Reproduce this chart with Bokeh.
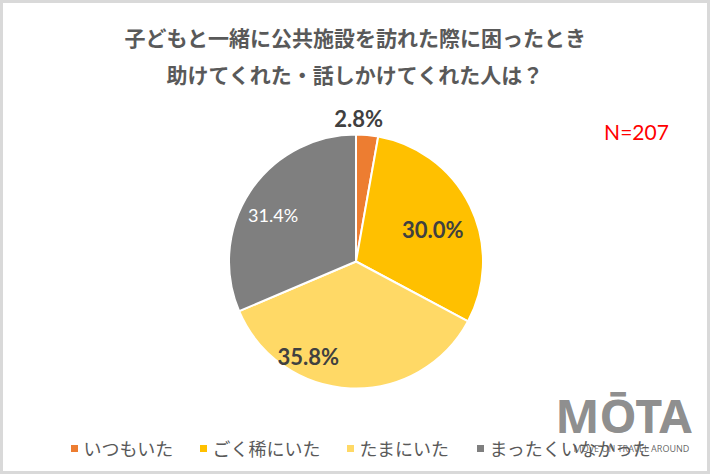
import math
from bokeh.plotting import figure
from bokeh.models import Range1d, ColumnDataSource
from bokeh.core.properties import value
from bokeh.embed import file_html
from bokeh.resources import INLINE

# ---- data ----
title_lines = ["子どもと一緒に公共施設を訪れた際に困ったとき", "助けてくれた・話しかけてくれた人は？"]
categories = ["いつもいた", "ごく稀にいた", "たまにいた", "まったくいなかった"]
percents = [2.8, 30.0, 35.8, 31.4]
label_texts = ["2.8%", "30.0%", "35.8%", "31.4%"]
n_text = "N=207"

# ---- style / layout ----
colors = ["#ED7D31", "#FFC000", "#FFD966", "#7F7F7F"]
label_colors = ["#404040", "#404040", "#404040", "#FFFFFF"]
label_weights = ["bold", "bold", "bold", "normal"]
label_sizes = ["22px", "22px", "22px", "18px"]
label_rfac = [1.125, 0.655, 0.835, 0.75]
label_dang = [4.0, -3.3, -24.3, 4.0]
legend_x = [74, 203, 350, 480]

W, H = 710, 474
H_IMG = 474

def Y(y):  # convert top-down pixel to data y
    return H_IMG - y

p = figure(width=W, height=H, output_backend="svg", toolbar_location=None,
           x_range=Range1d(0, W), y_range=Range1d(0, H),
           min_border=0)
p.axis.visible = False
p.grid.visible = False
p.outline_line_color = "#D9D9D9"
p.outline_line_width = 5
p.background_fill_color = "white"
p.border_fill_color = "white"

cx, cy, R = 355.5, Y(261), 127

total = sum(percents)
starts, ends, lx, ly = [], [], [], []
c = 0.0
for i, v in enumerate(percents):
    c0 = c / total
    c1 = (c + v) / total
    c += v
    starts.append(math.pi / 2 - 2 * math.pi * c1)
    ends.append(math.pi / 2 - 2 * math.pi * c0)
    mid = math.pi / 2 - 2 * math.pi * (c0 + c1) / 2 + math.radians(label_dang[i])
    lx.append(cx + R * label_rfac[i] * math.cos(mid))
    ly.append(cy + R * label_rfac[i] * math.sin(mid))

src = ColumnDataSource(dict(start=starts, end=ends, color=colors, cat=categories))
p.wedge(x=cx, y=cy, radius=R, start_angle="start", end_angle="end",
        fill_color="color", line_color="white", line_width=2, source=src)

lsrc = ColumnDataSource(dict(x=lx, y=ly, t=label_texts, c=label_colors,
                             w=label_weights, s=label_sizes))
p.text(x="x", y="y", text="t", text_color="c", text_font_style="w",
       text_font_size="s", text_font=value("Lato"), text_align="center",
       text_baseline="middle", source=lsrc)

# title
p.text(x=[355, 355], y=[Y(36), Y(73)], text=title_lines, text_color="#595959",
       text_font=value("Noto Sans CJK JP"), text_font_style="bold",
       text_font_size="21px", text_align="center", text_baseline="middle")

# N
p.text(x=[636], y=[Y(131)], text=[n_text], text_color="#FF0000",
       text_font=value("Lato"), text_font_size="21px", text_align="center",
       text_baseline="middle")

# legend
p.scatter(x=legend_x, y=[Y(448)] * 4, marker="square", size=7,
          fill_color=colors, line_color=None)
p.text(x=[x + 9 for x in legend_x], y=[Y(447)] * 4, text=categories,
       text_color="#595959", text_font=value("Noto Sans CJK JP"),
       text_font_size="18px", text_align="left", text_baseline="middle")

# watermark
p.text(x=[623], y=[Y(414)], text=["MŌTA"], text_color="#808080",
       text_font=value("Noto Sans"), text_font_style="bold",
       text_font_size="47px", text_align="center", text_baseline="middle",
       text_alpha=0.9)
p.text(x=[631], y=[Y(448)], text=["MOVE ON TRAVEL AROUND"], text_color="#595959",
       text_font=value("Noto Sans"), text_font_size="9px", text_align="center",
       text_baseline="middle", text_alpha=0.9)

open("out.html", "w").write(file_html(p, INLINE))
